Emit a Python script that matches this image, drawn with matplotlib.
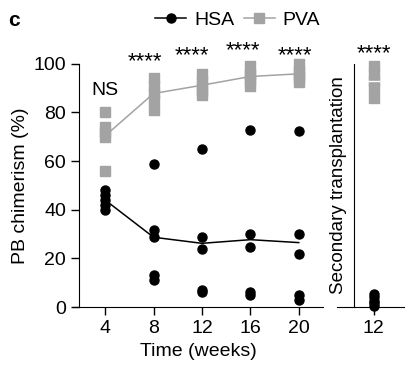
import matplotlib
matplotlib.use("Agg")
import matplotlib.pyplot as plt
from matplotlib.lines import Line2D
import numpy as np

plt.rcParams['font.family'] = ['Liberation Sans', 'DejaVu Sans']
plt.rcParams['font.size'] = 14

weeks = [4, 8, 12, 16, 20]
hsa = [[48, 46, 44, 42, 40],
       [59, 31.5, 29, 13, 11],
       [65, 29, 24, 7, 6],
       [73, 30, 24.5, 6, 5],
       [72.5, 30, 22, 5, 3]]
pva = [[80, 74, 72, 70, 56],
       [94, 91, 88, 85, 81],
       [96, 93, 91, 89, 87],
       [99, 96, 95, 93, 91],
       [100, 97, 96, 94, 92.5]]
stars = ["NS", "****", "****", "****", "****"]

sec_week = 12
sec_hsa = [5.5, 4, 2.5, 1.5, 0.5]
sec_pva = [99, 96, 93, 90, 86]

gray = "#a3a3a3"

fig = plt.figure(figsize=(4.2, 3.8), dpi=100)
ax = fig.add_axes([0.174, 0.192, 0.595, 0.64])
ax2 = fig.add_axes([0.802, 0.192, 0.160, 0.64])

for w, h, p in zip(weeks, hsa, pva):
    ax.plot([w] * len(h), h, 'o', color='black', ms=6.5, clip_on=False, zorder=3)
    ax.plot([w] * len(p), p, 's', color=gray, ms=7, clip_on=False, zorder=3)

ax.plot(weeks, [np.mean(h) for h in hsa], color='black', lw=1.1, zorder=2)
ax.plot(weeks, [np.mean(p) for p in pva], color=gray, lw=1.1, zorder=2)

star_y = [89, 98.8, 101, 103, 101]
star_dx = [0, -0.75, -0.8, -0.65, -0.3]
for w, s, y, dx in zip(weeks, stars, star_y, star_dx):
    if s == "NS":
        ax.text(w, y, s, ha='center', va='center', fontsize=14)
    else:
        ax.text(w + dx, y, s, ha='center', va='baseline', fontsize=16, clip_on=False)

ax.set_xlim(1.35, 22)
ax.set_ylim(0, 100)
ax.set_xticks(weeks)
ax.set_yticks([0, 20, 40, 60, 80, 100])
ax.spines['left'].set_position(('data', 1.85))
ax.spines['top'].set_visible(False)
ax.spines['right'].set_visible(False)
ax.tick_params(direction='out', length=6, width=1, labelsize=14)
ax.set_xlabel("Time (weeks)", fontsize=14)
ax.set_ylabel("PB chimerism (%)", fontsize=14, labelpad=3)

# secondary transplantation panel
ax2.plot([sec_week] * len(sec_hsa), sec_hsa, 'o', color='black', ms=6.5, clip_on=False, zorder=3)
ax2.plot([sec_week] * len(sec_pva), sec_pva, 's', color=gray, ms=7, clip_on=False, zorder=3)
ax2.plot([sec_week - 0.3, sec_week + 0.3], [np.mean(sec_pva)] * 2, color='white', lw=1, zorder=4)
ax2.text(sec_week, 102, "****", ha='center', va='baseline', fontsize=16, clip_on=False)
ax2.set_xlim(9.8, 13.8)
ax2.set_ylim(0, 100)
ax2.set_xticks([sec_week])
ax2.set_yticks([])
ax2.spines['left'].set_position(('data', 10.8))
ax2.spines['top'].set_visible(False)
ax2.spines['right'].set_visible(False)
ax2.tick_params(direction='out', length=6, width=1, labelsize=14)
ax2.text(0.02, 0.5, "Secondary transplantation", rotation=90, ha='center', va='center',
         transform=ax2.transAxes, fontsize=13.5)

handles = [Line2D([], [], color='black', marker='o', ms=6.5, lw=1.1),
           Line2D([], [], color=gray, marker='s', ms=7, lw=1.1)]
fig.legend(handles, ["HSA", "PVA"], loc='center', bbox_to_anchor=(0.566, 0.947), ncol=2,
           frameon=False, fontsize=14, handlelength=1.6, handletextpad=0.4, columnspacing=0.5)

fig.text(0.02, 0.947, "c", fontsize=15, fontweight='bold', va='center')

fig.savefig("out.png", dpi=100)
